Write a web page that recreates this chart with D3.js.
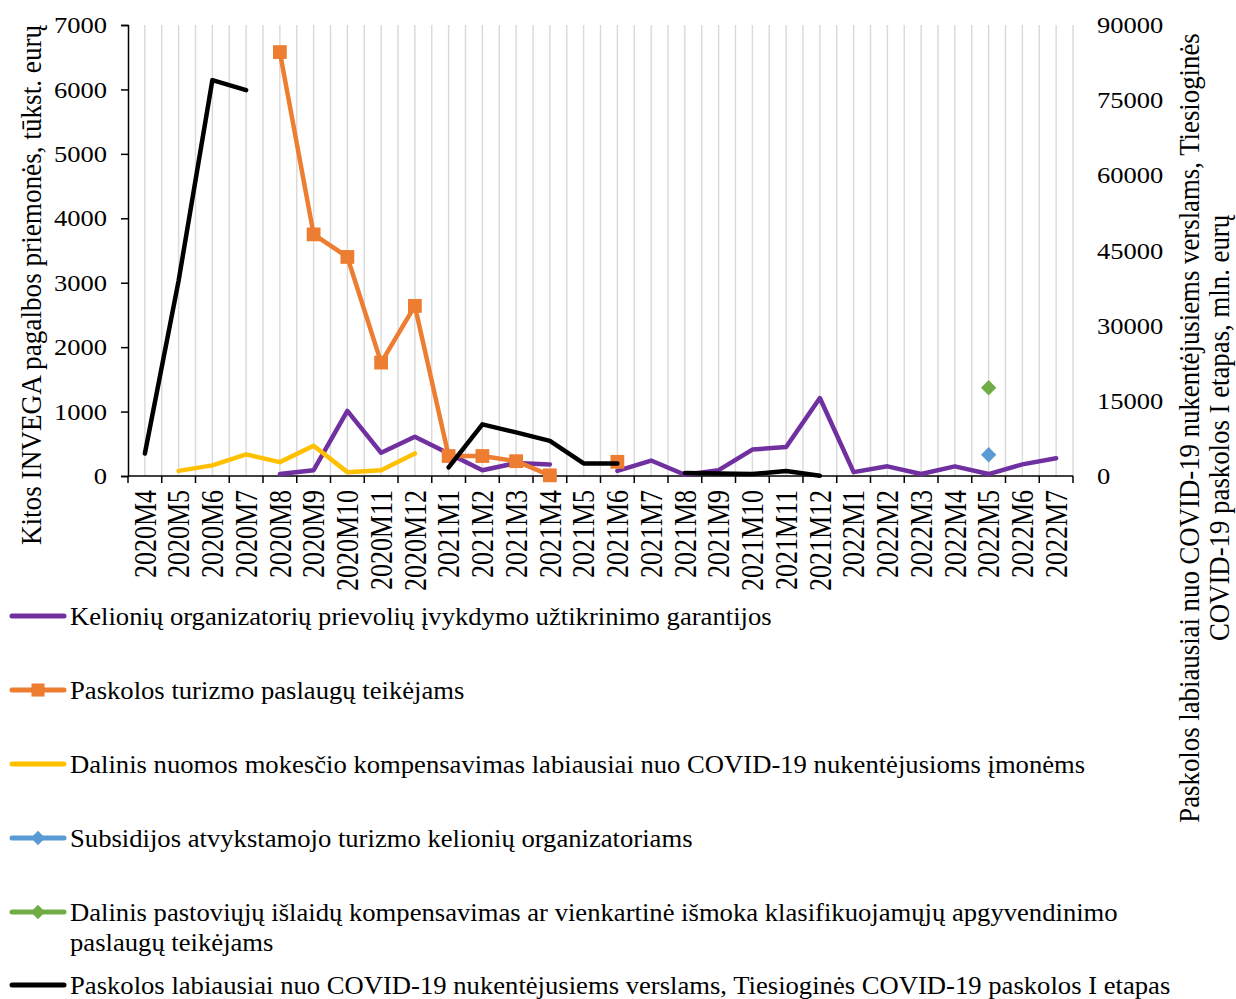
<!DOCTYPE html>
<html><head><meta charset="utf-8">
<script src="https://cdn.jsdelivr.net/npm/d3@7"></script>
<style>body{margin:0;background:#fff}svg{display:block}text{font-family:"Liberation Serif","Times New Roman",serif;fill:#000}</style>
</head><body>
<svg id="c" width="1236" height="999"></svg>
<script>
const categories = ["2020M4","2020M5","2020M6","2020M7","2020M8","2020M9","2020M10","2020M11","2020M12","2021M1","2021M2","2021M3","2021M4","2021M5","2021M6","2021M7","2021M8","2021M9","2021M10","2021M11","2021M12","2022M1","2022M2","2022M3","2022M4","2022M5","2022M6","2022M7"];
// left axis (tūkst. eurų)
const kelioniu   = [null,null,null,null,30,90,1010,360,610,350,90,200,180,null,80,240,20,90,410,450,1210,60,150,30,150,30,180,275];
const paskolosTur= [null,null,null,null,6580,3750,3400,1760,2640,310,310,230,10,null,220,null,null,null,null,null,null,null,null,null,null,null,null,null];
const nuomos     = [null,80,165,335,215,470,60,90,350,null,null,null,null,null,null,null,null,null,null,null,null,null,null,null,null,null,null,null];
const subsidijos = [null,null,null,null,null,null,null,null,null,null,null,null,null,null,null,null,null,null,null,null,null,null,null,null,null,330,null,null];
const pastoviuju = [null,null,null,null,null,null,null,null,null,null,null,null,null,null,null,null,null,null,null,null,null,null,null,null,null,1370,null,null];
// right axis (mln. eurų)
const paskolosCovid = [4500,39000,79000,77000,null,null,null,null,null,1700,10300,8700,7000,2500,2500,null,600,500,400,1000,50,null,null,null,null,null,null,null];
const leftTicks = [0,1000,2000,3000,4000,5000,6000,7000];
const rightTicks = [0,15000,30000,45000,60000,75000,90000];
const legendLabels = [
  ["Kelionių organizatorių prievolių įvykdymo užtikrinimo garantijos"],
  ["Paskolos turizmo paslaugų teikėjams"],
  ["Dalinis nuomos mokesčio kompensavimas labiausiai nuo COVID-19 nukentėjusioms įmonėms"],
  ["Subsidijos atvykstamojo turizmo kelionių organizatoriams"],
  ["Dalinis pastoviųjų išlaidų kompensavimas ar vienkartinė išmoka klasifikuojamųjų apgyvendinimo","paslaugų teikėjams"],
  ["Paskolos labiausiai nuo COVID-19 nukentėjusiems verslams, Tiesioginės COVID-19 paskolos I etapas"]
];
const leftTitle = "Kitos INVEGA pagalbos priemonės, tūkst. eurų";
const rightTitle = ["Paskolos labiausiai nuo COVID-19 nukentėjusiems verslams, Tiesioginės","COVID-19 paskolos I etapas, mln. eurų"];

const K = 1.18; // horizontal stretch of glyphs in reference
const svg = d3.select("#c");
const L=128, R=1073, T=25, B=476;
const x = d3.scaleBand().domain(categories).range([L,R]).padding(0);
const xc = c => x(c)+x.bandwidth()/2;
const yL = d3.scaleLinear().domain([0,7000]).range([B,T]);
const yR = d3.scaleLinear().domain([0,90000]).range([B,T]);

// gridlines at boundaries and centres
const gx = [];
categories.forEach((c,i)=>{ if(i>0) gx.push(x(c)); gx.push(xc(c)); });
gx.push(R);
svg.append("g").selectAll("line").data(gx).join("line")
  .attr("x1",d=>d).attr("x2",d=>d).attr("y1",T).attr("y2",B)
  .attr("stroke","#d9d9d9").attr("stroke-width",1.4);

// left axis
const gL = svg.append("g").attr("transform",`translate(${L},0)`)
  .call(d3.axisLeft(yL).tickValues(leftTicks).tickSize(7).tickFormat(d=>d));
gL.select(".domain").attr("stroke","#000").attr("stroke-width",1.5);
gL.selectAll(".tick line").attr("stroke","#000").attr("stroke-width",1.5);
gL.selectAll(".tick text").attr("font-size",22.5).attr("font-family","Liberation Serif")
  .attr("x",-21/K).attr("dy","0.34em").attr("transform",`scale(${K},1)`).attr("fill","#000");

// right axis (no line)
const gR = svg.append("g").attr("transform",`translate(${R},0)`)
  .call(d3.axisRight(yR).tickValues(rightTicks).tickSize(0).tickFormat(d=>d));
gR.select(".domain").remove();
gR.selectAll(".tick text").attr("font-size",22.5).attr("font-family","Liberation Serif")
  .attr("x",24/K).attr("dy","0.34em").attr("transform",`scale(${K},1)`).attr("fill","#000");

// x axis
const gX = svg.append("g").attr("transform",`translate(0,${B})`);
gX.append("line").attr("x1",L).attr("x2",R).attr("stroke","#000").attr("stroke-width",1.5);
const bounds = categories.map(c=>x(c)).concat([R]);
gX.selectAll("line.tk").data(bounds).join("line").attr("class","tk")
  .attr("x1",d=>d).attr("x2",d=>d).attr("y1",0).attr("y2",7).attr("stroke","#000").attr("stroke-width",1.5);
gX.selectAll("text").data(categories).join("text")
  .attr("font-size",26)
  .attr("text-anchor","end").attr("dy","0.35em")
  .attr("transform",c=>`translate(${xc(c)},14) rotate(-90) scale(1,${K})`)
  .text(c=>c);

// axis titles
svg.append("text").attr("font-size",27.2).attr("text-anchor","middle").attr("dy","0.35em")
  .attr("transform",`translate(31,285) rotate(-90) scale(1,1.1)`).text(leftTitle);
rightTitle.forEach((t,i)=>{
  svg.append("text").attr("font-size",26.8).attr("text-anchor","middle").attr("dy","0.35em")
    .attr("transform",`translate(${1189+i*30},428) rotate(-90) scale(1,1.1)`).text(t);
});

// series
const series = [
  {v:kelioniu, y:yL, color:"#7030A0"},
  {v:paskolosTur, y:yL, color:"#ED7D31", marker:"square"},
  {v:nuomos, y:yL, color:"#FFC000"},
  {v:subsidijos, y:yL, color:"#5B9BD5", marker:"diamond"},
  {v:pastoviuju, y:yL, color:"#70AD47", marker:"diamond"},
  {v:paskolosCovid, y:yR, color:"#000000"}
];
const gS = svg.append("g");
series.forEach(s=>{
  const line = d3.line().defined(d=>d!=null).x((d,i)=>xc(categories[i])).y(d=>s.y(d));
  gS.append("path").attr("d",line(s.v)).attr("fill","none").attr("stroke",s.color)
    .attr("stroke-width",4.5).attr("stroke-linecap","round").attr("stroke-linejoin","round");
  if(s.marker){
    const sym = s.marker==="square" ? d3.symbol(d3.symbolSquare,190) : d3.symbol(d3.symbolDiamond2,150);
    gS.selectAll(null).data(s.v.map((d,i)=>({d,i})).filter(o=>o.d!=null)).join("path")
      .attr("d",sym).attr("fill",s.color)
      .attr("transform",o=>`translate(${xc(categories[o.i])},${s.y(o.d)})`);
  }
});

// legend
const rowsY = [616,690,764,838,912,985];
const gLeg = svg.append("g");
series.forEach((s,i)=>{
  const y = rowsY[i];
  gLeg.append("line").attr("x1",12).attr("x2",64).attr("y1",y).attr("y2",y)
    .attr("stroke",s.color).attr("stroke-width",5).attr("stroke-linecap","round");
  if(s.marker){
    const sym = s.marker==="square" ? d3.symbol(d3.symbolSquare,170) : d3.symbol(d3.symbolDiamond2,130);
    gLeg.append("path").attr("d",sym).attr("fill",s.color)
      .attr("transform",`translate(38,${y})`);
  }
  legendLabels[i].forEach((t,j)=>{
    gLeg.append("text").attr("font-size",25).attr("dy","0.35em")
      .attr("transform",`translate(70,${y+j*30}) scale(1.066,1)`).text(t);
  });
});
</script>
</body></html>
